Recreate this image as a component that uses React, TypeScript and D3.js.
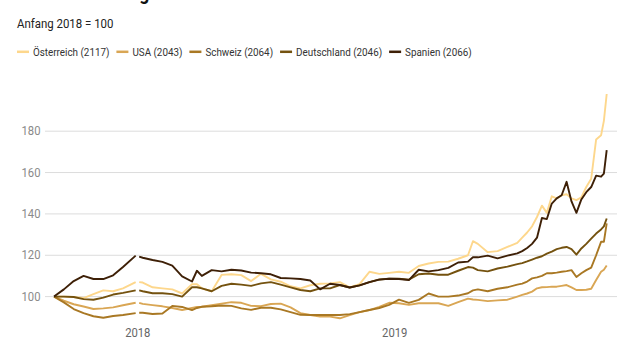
import React, { useEffect, useRef } from "react";
import * as d3 from "d3";

const title = "Kursentwicklung der Staatsanleihen";
const subtitle = "Anfang 2018 = 100";

const dates = [
  "2017-09-04", "2017-09-18", "2017-10-02", "2017-10-16", "2017-10-30", "2017-11-13", "2017-11-27", "2017-12-11",
  "2017-12-29", "2018-01-01", "2018-01-03", "2018-01-08", "2018-01-22", "2018-02-05", "2018-02-19", "2018-03-05",
  "2018-03-19", "2018-03-26", "2018-04-02", "2018-04-16", "2018-04-30", "2018-05-14", "2018-05-28", "2018-06-11",
  "2018-06-25", "2018-07-09", "2018-07-23", "2018-08-06", "2018-08-20", "2018-09-03", "2018-09-17", "2018-10-01",
  "2018-10-15", "2018-10-29", "2018-11-12", "2018-11-26", "2018-12-10", "2018-12-24", "2019-01-07", "2019-01-21",
  "2019-02-04", "2019-02-18", "2019-03-04", "2019-03-18", "2019-04-01", "2019-04-15", "2019-04-22", "2019-04-29",
  "2019-05-13", "2019-05-27", "2019-06-10", "2019-06-24", "2019-07-01", "2019-07-08", "2019-07-15", "2019-07-22",
  "2019-07-29", "2019-08-05", "2019-08-12", "2019-08-19", "2019-08-26", "2019-09-02", "2019-09-09", "2019-09-16",
  "2019-09-23", "2019-09-30", "2019-10-07", "2019-10-14", "2019-10-21", "2019-10-25", "2019-10-29",
];

const oesterreich = [
  100, 100, 99.8, 99.3, 101.2, 103, 102.6, 104, 107, null, 107, 106.8, 104.5, 104, 103.5, 101.5,
  106, 106, 104, 102.6, 110.5, 110.8, 110.4, 107.5, 111, 108.3, 107.2, 105, 104, 105.5, 106.2, 106.4,
  107, 104.5, 106, 112, 111, 111.5, 112, 111.5, 114.8, 116, 116.8, 116.9, 118.3, 120, 126.8, 125.5,
  121.5, 122, 124, 126, 128.5, 131, 134, 138.5, 144, 140.5, 148.5, 147.5, 149, 149.5, 147.5, 146.7,
  148, 153, 157, 176, 178, 185, 198,
];

const usa = [
  100, 98, 96.3, 95.2, 94, 94.3, 94.8, 95.8, 97, null, 97, 96.5, 95.9, 95.3, 94.5, 93.5,
  94.5, 95, 95.1, 95.8, 96.6, 97.3, 97, 95.5, 95.4, 96.4, 96.6, 94.8, 92, 91.1, 90.3, 90.3,
  89.5, 91, 92.5, 93.5, 95, 97, 96.8, 96, 96.8, 96.8, 96.8, 95.5, 97.3, 99, 98.6, 98.4,
  97.8, 98.2, 98.5, 100, 100.8, 101.5, 102.4, 104, 104.5, 104.6, 104.8, 104.8, 105.2, 105.6, 104.5, 103.2,
  103.2, 103.3, 103.8, 108, 112, 113, 115,
];

const schweiz = [
  100, 97.2, 94, 92, 90.5, 89.8, 90.6, 91.1, 92, null, 92.2, 92.2, 91.6, 91.8, 95.5, 95,
  93.5, 94.5, 95.1, 95.3, 95.7, 95.5, 94.3, 93.6, 94.6, 94.6, 93.8, 92.5, 91.2, 91.1, 91.1, 91.1,
  91.1, 91.5, 92.5, 93.5, 94.5, 96, 98.5, 97, 98.4, 101.5, 100, 100, 100.5, 101.6, 103, 103.5,
  102.6, 103.8, 104.5, 105.8, 106.3, 107.3, 108.8, 109.3, 110, 111.3, 111.3, 111.6, 112, 112.3, 112.8, 109.5,
  111.3, 112.8, 114, 120, 126.5, 126.5, 135.4,
];

const deutschland = [
  100, 100, 99.8, 98.8, 98.5, 99.5, 101, 101.8, 103, null, 103, 102.6, 101.6, 101.6, 101.2, 100,
  104.5, 104.5, 104, 102.6, 105.2, 106.2, 105.8, 105.2, 106.4, 107, 105.8, 104.5, 103.2, 102.6, 104, 104,
  105.6, 104.4, 105.4, 107, 108.3, 108.7, 108.6, 108.2, 110.8, 111.2, 110.6, 110.6, 112.5, 114.3, 114, 112.8,
  112.2, 113.6, 114.5, 115.7, 116.2, 117, 117.9, 118.8, 119.5, 120.8, 121.8, 123, 123.6, 124, 123, 120.3,
  123.3, 125.5, 128, 130.5, 132.5, 134, 137.8,
];

const spanien = [
  100, 103.5, 107.5, 110, 108.5, 108.5, 110.3, 114.3, 119.8, null, 119.3, 118.8, 117.7, 116.8, 115, 109.8,
  107.3, 112.5, 110, 112.8, 112.2, 113, 112.6, 111.6, 111.3, 110.8, 109, 108.8, 108.5, 107.8, 103.5, 106.2,
  105.6, 104.4, 105.4, 107, 108.2, 108.6, 108.5, 108, 113, 112.2, 112.8, 113.9, 116.5, 116.9, 119, 119,
  119.8, 118.5, 119.8, 120.9, 122, 123.5, 125.5, 128.5, 138, 137.5, 145, 147.5, 149, 155.5, 146, 140.5,
  147, 150.5, 153, 158.5, 158, 159.5, 170.8,
];

const seriesNames = ["Österreich (2117)", "USA (2043)", "Schweiz (2064)", "Deutschland (2046)", "Spanien (2066)"];
const seriesValues = [oesterreich, usa, schweiz, deutschland, spanien];
const seriesColors = ["#fdd78c", "#d9a654", "#a97824", "#74520f", "#3e2007"];

const yTicks = [100, 120, 140, 160, 180];
const xTicks = ["2018-01-01", "2019-01-01"];
const xTickLabels = ["2018", "2019"];

const W = 640;
const H = 360;
const FONT = "Roboto, 'Noto Sans', sans-serif";
const SX = 0.88; // condensed look

export default function App() {
  const ref = useRef<SVGSVGElement | null>(null);

  useEffect(() => {
    const svg = d3.select(ref.current);
    svg.selectAll("*").remove();
    const parse = d3.utcParse("%Y-%m-%d");
    const parsed = dates.map((d) => parse(d) as Date);

    const x = d3
      .scaleUtc()
      .domain([parse("2017-09-04") as Date, parse("2019-10-29") as Date])
      .range([54, 606.7]);
    const y = d3.scaleLinear().domain([100, 180]).range([296.6, 131.2]);

    const txt = (g: any, xx: number, yy: number, s: string, size: number, color: string, anchor = "start", weight = 400) =>
      g
        .append("text")
        .attr("transform", `translate(${xx},${yy}) scale(${SX},1)`)
        .attr("font-family", FONT)
        .attr("font-size", size)
        .attr("font-weight", weight)
        .attr("fill", color)
        .attr("text-anchor", anchor)
        .text(s);

    // title (mostly cropped above the frame) and subtitle
    txt(svg, 17, -0.5, title, 20, "#111", "start", 700);
    txt(svg, 17, 28.3, subtitle, 13, "#222");

    // legend
    let lx = 17;
    seriesNames.forEach((name, i) => {
      svg
        .append("line")
        .attr("x1", lx)
        .attr("x2", lx + 12)
        .attr("y1", 51.8)
        .attr("y2", 51.8)
        .attr("stroke", seriesColors[i])
        .attr("stroke-width", 2.5);
      const t = txt(svg, lx + 16, 56, name, 11.2, "#333");
      const w = (t.node() as SVGTextElement).getComputedTextLength() * SX;
      lx = lx + 16 + w + 7;
    });

    // grid + y labels
    const grid = svg.append("g");
    yTicks.forEach((v) => {
      grid
        .append("line")
        .attr("x1", 45)
        .attr("x2", 617)
        .attr("y1", y(v))
        .attr("y2", y(v))
        .attr("stroke", "#dcdcdc")
        .attr("stroke-width", 1);
      txt(grid, 40.5, y(v) + 4.2, String(v), 12.8, "#8a8a8a", "end");
    });

    // x labels
    xTicks.forEach((d, i) => {
      txt(svg, x(parse(d) as Date), 337.3, xTickLabels[i], 12.8, "#666", "middle");
    });

    // lines
    const line = d3
      .line<number | null>()
      .defined((v) => v != null)
      .x((_, i) => x(parsed[i]))
      .y((v) => y(v as number));

    seriesValues.forEach((vals, i) => {
      svg
        .append("path")
        .attr("d", line(vals) as string)
        .attr("fill", "none")
        .attr("stroke", seriesColors[i])
        .attr("stroke-width", 1.9)
        .attr("stroke-linejoin", "round");
    });
  }, []);

  return (
    <svg
      ref={ref}
      width={W}
      height={H}
      style={{ position: "absolute", left: 0, top: 0, background: "#fff", overflow: "hidden" }}
    />
  );
}
